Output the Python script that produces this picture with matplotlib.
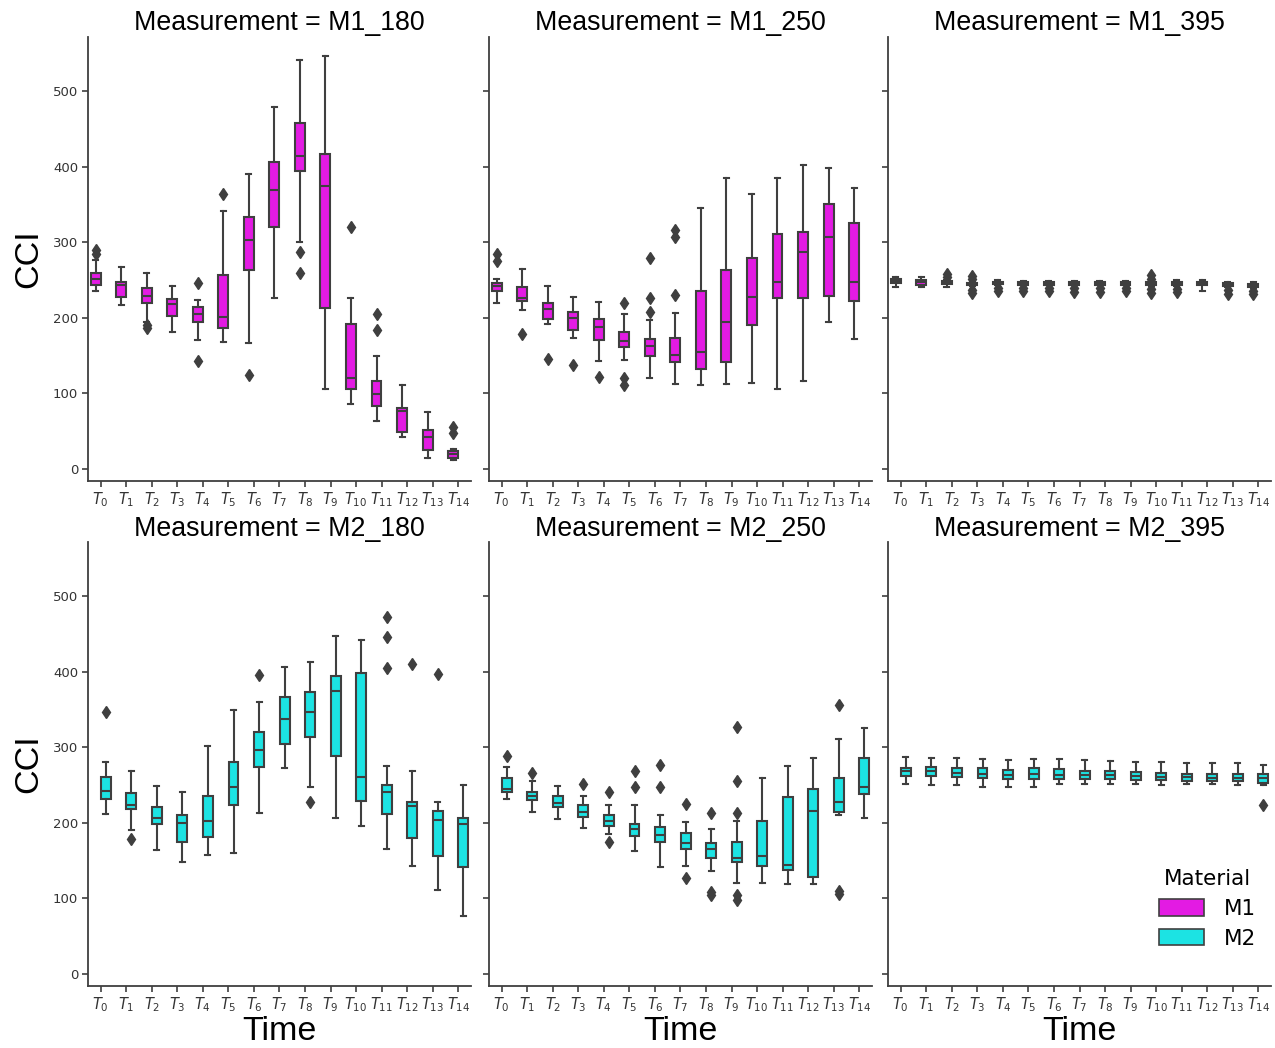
import matplotlib
matplotlib.use("Agg")
import matplotlib.pyplot as plt
from matplotlib.patches import Patch

# ---------------- data ----------------
times = [f"$T_{{{i}}}$" for i in range(15)]
materials = ["M1", "M2"]
material_colors = {"M1": "#e31be3", "M2": "#1ce3e3"}

# box stats per time point: (whislo, q1, median, q3, whishi)
M1_180_box = [
    (235, 244, 251, 259, 277), (217, 228, 243, 248, 267), (195, 220, 229, 239, 259),
    (181, 202, 219, 225, 242), (171, 194, 205, 215, 224), (168, 186, 201, 257, 342),
    (167, 263, 303, 333, 390), (227, 320, 369, 406, 479), (301, 394, 415, 458, 542),
    (106, 213, 375, 417, 547), (86, 106, 121, 192, 227), (63, 83, 99, 116, 149),
    (42, 49, 77, 81, 111), (14, 25, 42, 52, 75), (12, 14, 20, 24, 26),
]
M1_180_fliers = [[290, 284], [], [187, 190], [], [246, 143], [364], [125], [],
                 [287, 259], [], [321], [205, 184], [], [], [55, 47]]

M1_250_box = [
    (220, 235, 242, 246, 251), (211, 222, 226, 241, 265), (192, 199, 212, 220, 242),
    (173, 184, 200, 208, 228), (143, 171, 188, 199, 221), (144, 161, 170, 182, 205),
    (121, 150, 163, 172, 197), (112, 142, 151, 174, 207), (111, 132, 155, 235, 346),
    (112, 142, 194, 264, 385), (114, 190, 228, 279, 364), (106, 226, 247, 311, 385),
    (117, 226, 287, 314, 403), (194, 229, 307, 351, 398), (172, 222, 247, 326, 372),
]
M1_250_fliers = [[284, 275], [179], [146], [137], [122], [220, 120, 111],
                 [279, 227, 208], [317, 307, 231], [], [], [], [], [], [], []]

M1_395_box = [
    (241, 246, 249, 251, 254), (241, 244, 247, 250, 254), (241, 245, 247, 249, 250),
    (242, 243, 245, 246, 247), (244, 245, 246, 248, 250), (243, 244, 246, 247, 249),
    (243, 244, 246, 247, 249), (243, 244, 246, 247, 249), (243, 244, 246, 247, 249),
    (243, 244, 246, 247, 249), (242, 244, 246, 247, 249), (242, 244, 246, 247, 250),
    (236, 243, 245, 247, 250), (241, 242, 244, 246, 248), (240, 241, 243, 245, 247),
]
M1_395_fliers = [[], [], [258, 254], [256, 251, 237, 233], [239, 235], [240, 236],
                 [240, 236], [239, 234], [239, 234], [239, 235], [257, 251, 238, 233],
                 [238, 234], [], [237, 232], [236, 232]]

M2_180_box = [
    (212, 231, 242, 261, 280), (190, 218, 224, 240, 268), (164, 198, 206, 221, 249),
    (148, 174, 200, 211, 241), (157, 181, 202, 235, 302), (160, 224, 247, 281, 350),
    (213, 274, 297, 320, 360), (272, 305, 338, 366, 406), (247, 314, 347, 373, 413),
    (206, 288, 374, 395, 448), (196, 229, 261, 398, 442), (165, 212, 241, 250, 275),
    (143, 180, 222, 227, 268), (111, 156, 204, 216, 227), (76, 141, 198, 206, 250),
]
M2_180_fliers = [[347], [178], [], [], [], [], [396], [], [227], [], [],
                 [472, 446, 405], [411], [397], []]

M2_250_box = [
    (231, 241, 245, 259, 274), (215, 230, 235, 241, 256), (205, 221, 226, 235, 249),
    (193, 208, 214, 224, 236), (185, 196, 202, 210, 224), (163, 183, 192, 199, 224),
    (142, 174, 184, 195, 211), (143, 166, 173, 187, 201), (136, 153, 166, 173, 192),
    (120, 148, 154, 174, 203), (120, 143, 156, 203, 259), (119, 137, 144, 234, 275),
    (119, 128, 216, 245, 286), (211, 214, 227, 260, 311), (206, 238, 247, 286, 325),
]
M2_250_fliers = [[288], [266], [], [252], [241, 174], [268, 247], [276, 247],
                 [225, 127], [213, 109, 104], [327, 255, 213, 104, 98], [], [], [],
                 [356, 110, 106], []]

M2_395_box = [
    (251, 262, 268, 273, 287), (250, 262, 268, 274, 286), (250, 261, 266, 272, 286),
    (248, 260, 265, 272, 285), (247, 258, 264, 270, 283), (247, 258, 265, 272, 284),
    (252, 258, 264, 271, 285), (252, 258, 264, 269, 283), (251, 258, 263, 268, 282),
    (251, 257, 262, 267, 281), (250, 257, 261, 266, 281), (252, 256, 261, 265, 279),
    (251, 256, 260, 265, 279), (250, 255, 260, 265, 279), (250, 253, 259, 265, 277),
]
M2_395_fliers = [[]] * 14 + [[224]]

panels = [
    ("M1_180", "M1", M1_180_box, M1_180_fliers),
    ("M1_250", "M1", M1_250_box, M1_250_fliers),
    ("M1_395", "M1", M1_395_box, M1_395_fliers),
    ("M2_180", "M2", M2_180_box, M2_180_fliers),
    ("M2_250", "M2", M2_250_box, M2_250_fliers),
    ("M2_395", "M2", M2_395_box, M2_395_fliers),
]

# ---------------- drawing ----------------
plt.rcParams["font.family"] = ["DejaVu Sans"]
fig = plt.figure(figsize=(12.75, 10.48), dpi=100)

line_gray = "#3f3f3f"
lefts = [0.069, 0.3835, 0.6965]
bottoms = [0.541, 0.0592]
w, h = 0.3004, 0.4237
title_font = {"family": "Liberation Sans", "size": 19.3}

axes = []
for k, (name, mat, box, fliers) in enumerate(panels):
    r, c = divmod(k, 3)
    ax = fig.add_axes([lefts[c], bottoms[r], w, h])
    axes.append(ax)
    offset = -0.2 if mat == "M1" else 0.2
    stats = []
    for (lo, q1, med, q3, hi), fl in zip(box, fliers):
        stats.append(dict(whislo=lo, q1=q1, med=med, q3=q3, whishi=hi, fliers=fl))
    positions = [i + offset for i in range(len(times))]
    ax.bxp(stats, positions=positions, widths=0.39, patch_artist=True,
           showfliers=True, manage_ticks=False,
           boxprops=dict(facecolor=material_colors[mat], edgecolor=line_gray, linewidth=1.5),
           medianprops=dict(color=line_gray, linewidth=1.5),
           whiskerprops=dict(color=line_gray, linewidth=1.5),
           capprops=dict(color=line_gray, linewidth=1.5),
           flierprops=dict(marker="d", markerfacecolor=line_gray, markeredgecolor=line_gray,
                           markersize=6.5, linestyle="none"))
    ax.set_xlim(-0.5, 14.5)
    ax.set_ylim(-16, 572)
    ax.set_xticks(range(len(times)))
    ax.set_xticklabels(times, fontsize=10.5, color="#333333")
    ax.set_yticks([0, 100, 200, 300, 400, 500])
    if c == 0:
        ax.tick_params(axis="y", labelsize=9.5, labelcolor="#333333")
        ax.set_ylabel("CCI", fontsize=24.5, family="Liberation Sans", labelpad=6)
    else:
        ax.tick_params(axis="y", labelleft=False)
    if r == 1:
        ax.set_xlabel("Time", fontsize=24.5, family="Liberation Sans", labelpad=1)
    ax.tick_params(length=4, width=1.2, color=line_gray, pad=3)
    for s in ["top", "right"]:
        ax.spines[s].set_visible(False)
    for s in ["left", "bottom"]:
        ax.spines[s].set_color(line_gray)
        ax.spines[s].set_linewidth(1.3)
    ax.set_title(f"Measurement = {name}", fontdict=title_font, pad=5 if r == 0 else 1)

handles = [Patch(facecolor=material_colors[m], edgecolor=line_gray, linewidth=1.2, label=m)
           for m in materials]
leg = axes[5].legend(handles=handles, title="Material", loc="lower right",
                     bbox_to_anchor=(1.0, 0.05), frameon=False, fontsize=15.5,
                     title_fontsize=15.5, handlelength=2.1, handleheight=0.8,
                     handletextpad=0.9, labelspacing=0.45, borderpad=0.2)

fig.savefig("out.png", dpi=100)
